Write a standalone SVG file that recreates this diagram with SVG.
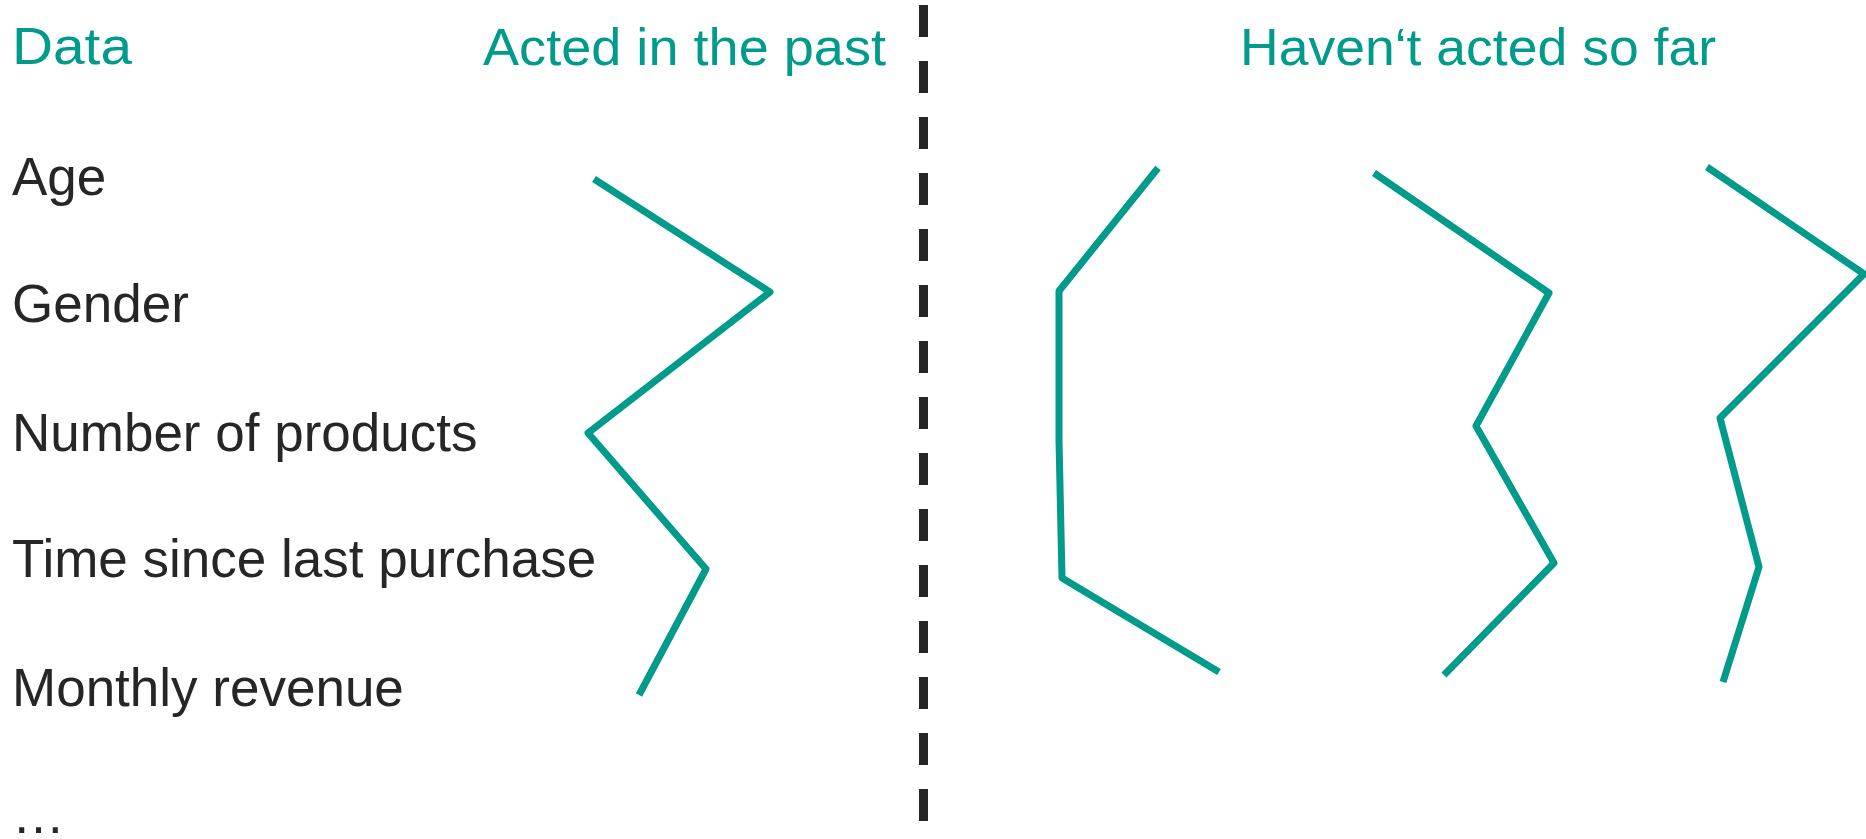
<svg xmlns="http://www.w3.org/2000/svg" width="1866" height="839" viewBox="0 0 1866 839">
<style>
.hdr{font-family:"Liberation Sans",Arial,sans-serif;font-size:52px;fill:#009b8a}
.lbl{font-family:"Liberation Sans",Arial,sans-serif;font-size:53px;fill:#262626}
.curve{fill:none;stroke:#009b8a;stroke-width:7;stroke-linejoin:round;stroke-linecap:butt}
.divider{stroke:#262626;stroke-width:9;stroke-dasharray:32 24}
</style>
<rect width="1866" height="839" fill="#ffffff"/>
<g id="headers">
<text class="hdr" x="12" y="64" textLength="120" lengthAdjust="spacingAndGlyphs">Data</text>
<text class="hdr" x="483" y="65" textLength="403" lengthAdjust="spacingAndGlyphs">Acted in the past</text>
<text class="hdr" x="1240" y="65" textLength="476" lengthAdjust="spacingAndGlyphs">Haven‘t acted so far</text>
</g>
<g id="labels">
<text class="lbl" x="12" y="195">Age</text>
<text class="lbl" x="12" y="322">Gender</text>
<text class="lbl" x="12" y="451">Number of products</text>
<text class="lbl" x="12" y="577">Time since last purchase</text>
<text class="lbl" x="12" y="706">Monthly revenue</text>
<text class="lbl" x="12" y="833">…</text>
</g>
<g id="connectors">
<line class="divider" x1="923.5" y1="5" x2="923.5" y2="821"/>
<polyline id="acted" class="curve" points="594,179 770,292 588,433 706,569 639,695"/>
<polyline id="notacted1" class="curve" points="1158,168 1059,291 1059,440 1062,578 1219,672"/>
<polyline id="notacted2" class="curve" points="1374,173 1549,293 1476,426 1554,563 1444,675"/>
<polyline id="notacted3" class="curve" points="1707,167 1864,274 1720,418 1759,567 1723,682"/>
</g>
</svg>
